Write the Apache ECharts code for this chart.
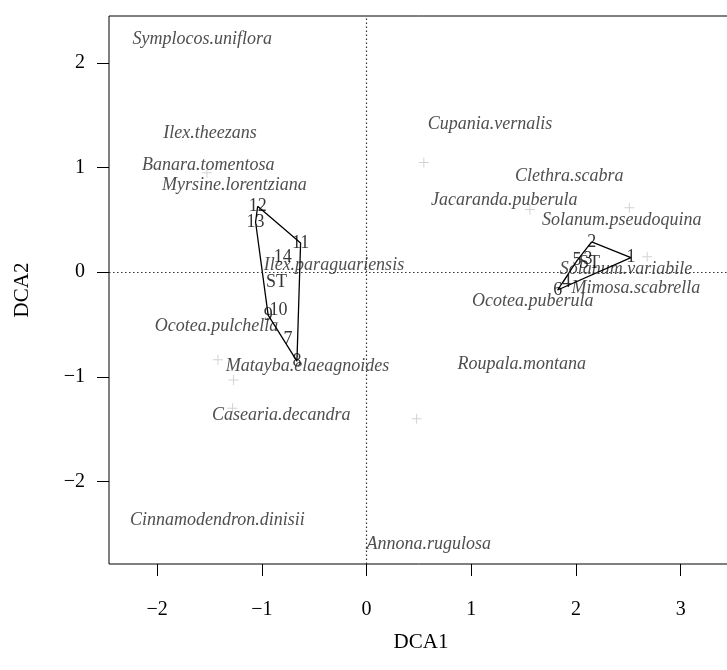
<!DOCTYPE html>
<html>
<head>
<meta charset="utf-8">
<script src="https://cdn.jsdelivr.net/npm/echarts@6/dist/echarts.min.js"></script>
<style>html,body{margin:0;padding:0;background:#fff}#c{width:727px;height:670px}</style>
</head>
<body>
<div id="c"></div>
<script>
// Sites (text labels)
const siteNames = ['1','2','3','4','5','6','7','8','9','10','11','12','13','14','ST','ST'];
const siteX = [2.525, 2.15, 2.115, 1.91, 2.01, 1.825, -0.75, -0.665, -0.94, -0.84, -0.63, -1.04, -1.06, -0.80, -0.86, 2.13];
const siteY = [0.14, 0.29, 0.12, -0.10, 0.11, -0.17, -0.64, -0.85, -0.41, -0.36, 0.28, 0.63, 0.48, 0.14, -0.10, 0.09];
// Hulls (site labels in drawing order)
const hullA = ['12','11','8','9','13'];
const hullB = ['2','1','6','5'];
// Species labels
const speciesNames = ['Symplocos.uniflora','Ilex.theezans','Banara.tomentosa','Myrsine.lorentziana','Ilex.paraguariensis','Ocotea.pulchella','Matayba.elaeagnoides','Casearia.decandra','Cinnamodendron.dinisii','Annona.rugulosa','Cupania.vernalis','Clethra.scabra','Jacaranda.puberula','Solanum.pseudoquina','Solanum.variabile','Mimosa.scabrella','Ocotea.puberula','Roupala.montana'];
const speciesX = [-1.569, -1.495, -1.511, -1.263, -0.312, -1.433, -0.565, -0.814, -1.425, 0.595, 1.178, 1.937, 1.316, 2.438, 2.477, 2.572, 1.588, 1.483];
const speciesY = [2.225, 1.33, 1.022, 0.830, 0.062, -0.518, -0.904, -1.364, -2.375, -2.603, 1.411, 0.918, 0.690, 0.496, 0.033, -0.158, -0.282, -0.876];
// Unlabelled species (grey crosses)
const crossX = [0.547, 1.56, 2.51, 2.68, -1.42, -1.27, -1.28, 0.478, -1.525];
const crossY = [1.048, 0.60, 0.617, 0.148, -0.837, -1.03, -1.30, -1.402, 0.95];
// Ticks
const xTicks = [-2, -1, 0, 1, 2, 3];
const yTicks = [-2, -1, 0, 1, 2];

const serif = 'Liberation Serif';
const fmt = v => String(v).replace('-', '\u2212');
const siteIdx = name => siteNames.indexOf(name);
const hullData = h => h.concat([h[0]]).map(n => [siteX[siteIdx(n)], siteY[siteIdx(n)]]);

const chart = echarts.init(document.getElementById('c'));
chart.setOption({
  animation: false,
  grid: {left: 109, right: -6, top: 16, bottom: 106, outerBoundsMode: 'none', containLabel: false,
         show: true, borderColor: '#000', borderWidth: 1, backgroundColor: 'transparent'},
  xAxis: {
    type: 'value', min: -2.46, max: 3.50,
    name: 'DCA1', nameLocation: 'middle', nameGap: 68,
    nameTextStyle: {fontFamily: serif, fontSize: 21, color: '#000'},
    axisLine: {show: false, onZero: false},
    splitLine: {show: false},
    axisTick: {show: true, customValues: xTicks, length: 12, inside: false, lineStyle: {color: '#000'}},
    axisLabel: {customValues: xTicks, formatter: fmt, fontFamily: serif, fontSize: 20, color: '#000', margin: 36}
  },
  yAxis: {
    type: 'value', min: -2.79, max: 2.45,
    name: 'DCA2', nameLocation: 'middle', nameGap: 76, nameRotate: 90,
    nameTextStyle: {fontFamily: serif, fontSize: 21, color: '#000'},
    axisLine: {show: false, onZero: false},
    splitLine: {show: false},
    axisTick: {show: true, customValues: yTicks, length: 12, inside: false, lineStyle: {color: '#000'}},
    axisLabel: {customValues: yTicks, formatter: fmt, fontFamily: serif, fontSize: 20, color: '#000', margin: 24}
  },
  series: [
    {
      type: 'line', data: [], silent: true,
      markLine: {
        silent: true, symbol: 'none', label: {show: false},
        lineStyle: {color: '#333', type: [1.5, 2.5], width: 1.2},
        data: [{xAxis: 0}, {yAxis: 0}]
      }
    },
    {
      type: 'scatter', silent: true,
      symbol: 'path://M0,4.5h10v1h-10zM4.5,0h1v10h-1z', symbolSize: 10,
      itemStyle: {color: '#c8c8c8'},
      data: crossX.map((x, i) => [x, crossY[i]])
    },
    {
      type: 'line', silent: true, showSymbol: false, symbol: 'none',
      lineStyle: {color: '#000', width: 1.3},
      data: hullData(hullA)
    },
    {
      type: 'line', silent: true, showSymbol: false, symbol: 'none',
      lineStyle: {color: '#000', width: 1.3},
      data: hullData(hullB)
    },
    {
      type: 'scatter', silent: true, symbolSize: 1,
      itemStyle: {color: 'rgba(0,0,0,0)'},
      label: {show: true, position: 'inside', formatter: p => p.name,
        fontFamily: serif, fontStyle: 'italic', fontSize: 18, color: '#222'},
      data: speciesNames.map((n, i) => ({name: n, value: [speciesX[i], speciesY[i]]}))
    },
    {
      type: 'scatter', silent: true, symbolSize: 1,
      itemStyle: {color: 'rgba(0,0,0,0)'},
      label: {show: true, position: 'inside', formatter: p => p.name,
        fontFamily: serif, fontSize: 18, color: '#000'},
      data: siteNames.map((n, i) => ({name: n, value: [siteX[i], siteY[i]]}))
    }
  ]
});
</script>
</body>
</html>
